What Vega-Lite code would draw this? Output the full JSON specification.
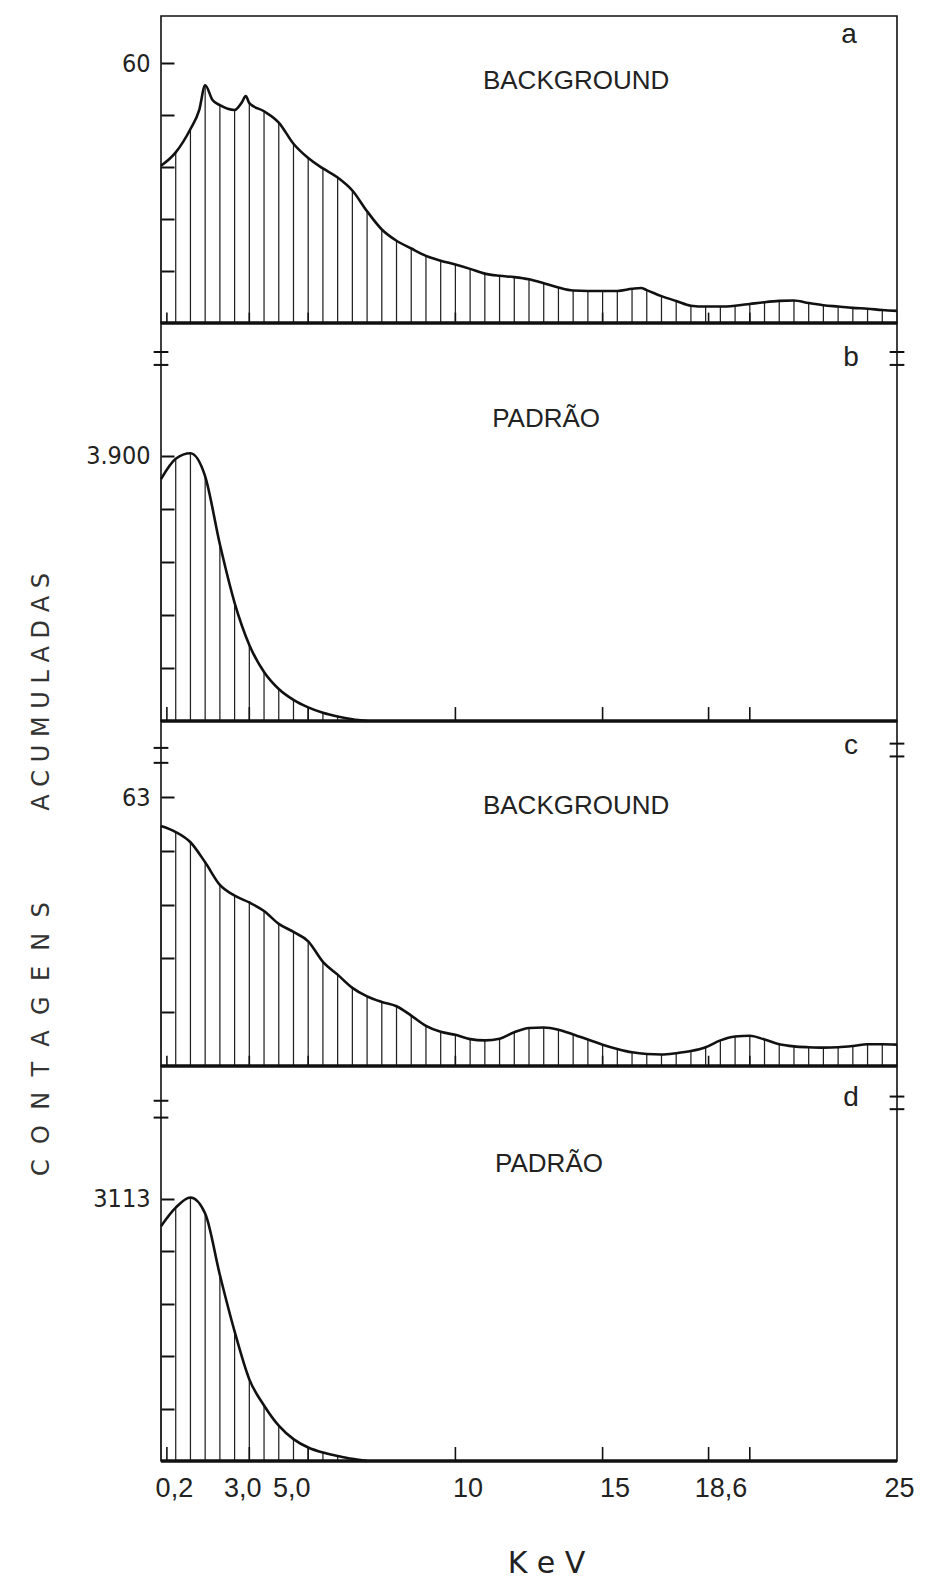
{
  "$schema": "https://vega.github.io/schema/vega-lite/v6.json",
  "background": "white",
  "padding": {"left": 28, "top": 15, "right": 5, "bottom": 0},
  "autosize": {"type": "pad"},
  "spacing": 0,
  "bounds": "flush",
  "config": {
    "view": {"stroke": "#111", "strokeWidth": 1.6},
    "axis": {"grid": false, "domain": false}
  },
  "datasets": {
    "a": [
      {"keV": 0, "n": 36.3}, {"keV": 0.5, "n": 39.4}, {"keV": 1.0, "n": 44.8}, {"keV": 1.3, "n": 49.2},
      {"keV": 1.5, "n": 54.9}, {"keV": 1.75, "n": 51.5}, {"keV": 2.0, "n": 50.3}, {"keV": 2.5, "n": 49.2},
      {"keV": 2.75, "n": 51.0}, {"keV": 2.88, "n": 52.4}, {"keV": 3.0, "n": 50.8}, {"keV": 3.5, "n": 48.9},
      {"keV": 4.0, "n": 46.3}, {"keV": 4.5, "n": 41.4}, {"keV": 5.0, "n": 38.1}, {"keV": 5.5, "n": 35.7},
      {"keV": 6.0, "n": 33.6}, {"keV": 6.5, "n": 30.6}, {"keV": 7.0, "n": 25.8}, {"keV": 7.5, "n": 21.6},
      {"keV": 8.0, "n": 19.0}, {"keV": 8.5, "n": 17.2}, {"keV": 9.0, "n": 15.5}, {"keV": 9.5, "n": 14.4},
      {"keV": 10.0, "n": 13.5}, {"keV": 10.5, "n": 12.5}, {"keV": 11.0, "n": 11.4}, {"keV": 11.5, "n": 10.9},
      {"keV": 12.0, "n": 10.6}, {"keV": 12.5, "n": 10.1}, {"keV": 13.0, "n": 9.2}, {"keV": 13.5, "n": 8.2},
      {"keV": 14.0, "n": 7.5}, {"keV": 14.5, "n": 7.4}, {"keV": 15.0, "n": 7.4}, {"keV": 15.5, "n": 7.4},
      {"keV": 16.0, "n": 7.9}, {"keV": 16.3, "n": 8.1}, {"keV": 16.5, "n": 7.6}, {"keV": 17.0, "n": 6.2},
      {"keV": 17.5, "n": 5.1}, {"keV": 18.0, "n": 4.0}, {"keV": 18.5, "n": 3.8}, {"keV": 19.0, "n": 3.8},
      {"keV": 19.5, "n": 4.0}, {"keV": 20.0, "n": 4.4}, {"keV": 20.5, "n": 4.8}, {"keV": 21.0, "n": 5.1},
      {"keV": 21.5, "n": 5.2}, {"keV": 22.0, "n": 4.6}, {"keV": 22.5, "n": 4.1}, {"keV": 23.0, "n": 3.8},
      {"keV": 23.5, "n": 3.5}, {"keV": 24.0, "n": 3.3}, {"keV": 24.5, "n": 3.0}, {"keV": 25.0, "n": 2.8}
    ],
    "b": [
      {"keV": 0, "n": 3560}, {"keV": 0.5, "n": 3860}, {"keV": 1.0, "n": 3940}, {"keV": 1.5, "n": 3600},
      {"keV": 2.0, "n": 2600}, {"keV": 2.5, "n": 1740}, {"keV": 3.0, "n": 1120}, {"keV": 3.5, "n": 720},
      {"keV": 4.0, "n": 470}, {"keV": 4.5, "n": 310}, {"keV": 5.0, "n": 200}, {"keV": 5.5, "n": 120},
      {"keV": 6.0, "n": 65}, {"keV": 6.5, "n": 25}, {"keV": 7.0, "n": 0}
    ],
    "c": [
      {"keV": 0, "n": 56.2}, {"keV": 0.5, "n": 54.8}, {"keV": 1.0, "n": 52.4}, {"keV": 1.5, "n": 47.7},
      {"keV": 2.0, "n": 42.4}, {"keV": 2.5, "n": 39.9}, {"keV": 3.0, "n": 38.3}, {"keV": 3.5, "n": 36.3},
      {"keV": 4.0, "n": 33.3}, {"keV": 4.5, "n": 31.4}, {"keV": 5.0, "n": 29.2}, {"keV": 5.5, "n": 24.4},
      {"keV": 6.0, "n": 21.4}, {"keV": 6.5, "n": 18.3}, {"keV": 7.0, "n": 16.3}, {"keV": 7.5, "n": 15.0},
      {"keV": 8.0, "n": 14.0}, {"keV": 8.5, "n": 11.8}, {"keV": 9.0, "n": 9.4}, {"keV": 9.5, "n": 8.0},
      {"keV": 10.0, "n": 7.3}, {"keV": 10.5, "n": 6.3}, {"keV": 11.0, "n": 6.0}, {"keV": 11.5, "n": 6.4},
      {"keV": 12.0, "n": 7.9}, {"keV": 12.5, "n": 8.9}, {"keV": 13.0, "n": 9.0}, {"keV": 13.5, "n": 8.5},
      {"keV": 14.0, "n": 7.4}, {"keV": 14.5, "n": 6.2}, {"keV": 15.0, "n": 5.0}, {"keV": 15.5, "n": 4.0},
      {"keV": 16.0, "n": 3.2}, {"keV": 16.5, "n": 2.8}, {"keV": 17.0, "n": 2.7}, {"keV": 17.5, "n": 3.0},
      {"keV": 18.0, "n": 3.5}, {"keV": 18.5, "n": 4.4}, {"keV": 19.0, "n": 6.0}, {"keV": 19.5, "n": 6.9},
      {"keV": 20.0, "n": 7.1}, {"keV": 20.5, "n": 6.2}, {"keV": 21.0, "n": 5.1}, {"keV": 21.5, "n": 4.6},
      {"keV": 22.0, "n": 4.4}, {"keV": 22.5, "n": 4.3}, {"keV": 23.0, "n": 4.4}, {"keV": 23.5, "n": 4.7},
      {"keV": 24.0, "n": 5.1}, {"keV": 24.5, "n": 5.1}, {"keV": 25.0, "n": 5.0}
    ],
    "d": [
      {"keV": 0, "n": 2790}, {"keV": 0.5, "n": 3010}, {"keV": 1.0, "n": 3130}, {"keV": 1.5, "n": 2940},
      {"keV": 2.0, "n": 2210}, {"keV": 2.5, "n": 1540}, {"keV": 3.0, "n": 970}, {"keV": 3.5, "n": 660},
      {"keV": 4.0, "n": 420}, {"keV": 4.5, "n": 260}, {"keV": 5.0, "n": 160}, {"keV": 5.5, "n": 100},
      {"keV": 6.0, "n": 60}, {"keV": 6.5, "n": 25}, {"keV": 7.0, "n": 0}
    ],
    "ticks": [{"k": 0.2}, {"k": 3}, {"k": 5}, {"k": 10}, {"k": 15}, {"k": 18.6}, {"k": 20}],
    "one": [{"mark": "break"}]
  },
  "vconcat": [
    {
      "width": 736, "height": 307,
      "layer": [
        {"data": {"name": "a"}, "transform": [{"filter": "datum.keV*2 == round(datum.keV*2) && datum.n > 0"}],
         "mark": {"type": "rule", "stroke": "#222", "strokeWidth": 1.25},
         "encoding": {"x": {"field": "keV", "type": "quantitative", "scale": {"domain": [0, 25], "nice": false}, "axis": null},
                      "y": {"field": "n", "type": "quantitative", "scale": {"domain": [0, 70.9], "nice": false},
                            "axis": {"values": [12, 24, 36, 48, 60], "labelExpr": "datum.value == 60 ? '60' : ''", "title": null,
                                     "tickSize": -13, "tickWidth": 2, "tickColor": "#111", "labelPadding": 24,
                                     "labelFont": "Liberation Sans Narrow, DejaVu Sans Condensed, sans-serif", "labelFontSize": 25, "labelColor": "#222"}},
                      "y2": {"datum": 0}}},
        {"data": {"name": "ticks"}, "mark": {"type": "rule", "stroke": "#111", "strokeWidth": 1.6},
         "encoding": {"x": {"field": "k", "type": "quantitative"}, "y": {"datum": 0, "type": "quantitative"}, "y2": {"datum": 2.4}}},
        {"data": {"name": "a"}, "mark": {"type": "line", "interpolate": "monotone", "stroke": "#111", "strokeWidth": 2.6},
         "encoding": {"x": {"field": "keV", "type": "quantitative"}, "y": {"field": "n", "type": "quantitative"}}},
        {"data": {"values": [{"z": 0}]}, "mark": {"type": "rule", "stroke": "#111", "strokeWidth": 3.5},
         "encoding": {"y": {"field": "z", "type": "quantitative"}}},
        {"data": {"values": [{"t": "BACKGROUND"}]}, "mark": {"type": "text", "font": "Liberation Sans, sans-serif", "fontSize": 26, "color": "#222", "align": "center", "baseline": "middle"},
         "encoding": {"x": {"datum": 14.1, "type": "quantitative"}, "y": {"datum": 55.9, "type": "quantitative"}, "text": {"field": "t", "type": "nominal"}}},
        {"data": {"values": [{"t": "a"}]}, "mark": {"type": "text", "font": "Liberation Sans, sans-serif", "fontSize": 28, "color": "#222", "align": "center", "baseline": "middle"},
         "encoding": {"x": {"datum": 23.37, "type": "quantitative"}, "y": {"datum": 66.5, "type": "quantitative"}, "text": {"field": "t", "type": "nominal"}}}
      ]
    },
    {
      "width": 736, "height": 398,
      "layer": [
        {"data": {"name": "b"}, "transform": [{"filter": "datum.n > 0"}],
         "mark": {"type": "rule", "stroke": "#222", "strokeWidth": 1.25},
         "encoding": {"x": {"field": "keV", "type": "quantitative", "scale": {"domain": [0, 25], "nice": false}, "axis": null},
                      "y": {"field": "n", "type": "quantitative", "scale": {"domain": [0, 5857], "nice": false},
                            "axis": {"values": [780, 1560, 2340, 3120, 3900], "labelExpr": "datum.value == 3900 ? '3.900' : ''", "title": null,
                                     "tickSize": -13, "tickWidth": 2, "tickColor": "#111", "labelPadding": 24,
                                     "labelFont": "Liberation Sans Narrow, DejaVu Sans Condensed, sans-serif", "labelFontSize": 25, "labelColor": "#222"}},
                      "y2": {"datum": 0}}},
        {"data": {"name": "ticks"}, "mark": {"type": "rule", "stroke": "#111", "strokeWidth": 1.6},
         "encoding": {"x": {"field": "k", "type": "quantitative"}, "y": {"datum": 0, "type": "quantitative"}, "y2": {"datum": 205}}},
        {"data": {"name": "b"}, "mark": {"type": "line", "interpolate": "monotone", "stroke": "#111", "strokeWidth": 2.6},
         "encoding": {"x": {"field": "keV", "type": "quantitative"}, "y": {"field": "n", "type": "quantitative"}}},
        {"data": {"values": [{"z": 0}]}, "mark": {"type": "rule", "stroke": "#111", "strokeWidth": 3.5},
         "encoding": {"y": {"field": "z", "type": "quantitative"}}},
        {"data": {"name": "one"}, "mark": {"type": "rule", "stroke": "#111", "strokeWidth": 2},
         "encoding": {"x": {"datum": -0.25, "type": "quantitative"}, "x2": {"datum": 0.25}, "y": {"datum": 5430, "type": "quantitative"}}},
        {"data": {"name": "one"}, "mark": {"type": "rule", "stroke": "#111", "strokeWidth": 2},
         "encoding": {"x": {"datum": -0.25, "type": "quantitative"}, "x2": {"datum": 0.25}, "y": {"datum": 5240, "type": "quantitative"}}},
        {"data": {"name": "one"}, "mark": {"type": "rule", "stroke": "#111", "strokeWidth": 2},
         "encoding": {"x": {"datum": 24.75, "type": "quantitative"}, "x2": {"datum": 25.25}, "y": {"datum": 5430, "type": "quantitative"}}},
        {"data": {"name": "one"}, "mark": {"type": "rule", "stroke": "#111", "strokeWidth": 2},
         "encoding": {"x": {"datum": 24.75, "type": "quantitative"}, "x2": {"datum": 25.25}, "y": {"datum": 5240, "type": "quantitative"}}},
        {"data": {"values": [{"t": "PADRÃO"}]}, "mark": {"type": "text", "font": "Liberation Sans, sans-serif", "fontSize": 26, "color": "#222", "align": "center", "baseline": "middle"},
         "encoding": {"x": {"datum": 13.08, "type": "quantitative"}, "y": {"datum": 4444, "type": "quantitative"}, "text": {"field": "t", "type": "nominal"}}},
        {"data": {"values": [{"t": "b"}]}, "mark": {"type": "text", "font": "Liberation Sans, sans-serif", "fontSize": 28, "color": "#222", "align": "center", "baseline": "middle"},
         "encoding": {"x": {"datum": 23.44, "type": "quantitative"}, "y": {"datum": 5342, "type": "quantitative"}, "text": {"field": "t", "type": "nominal"}}}
      ]
    },
    {
      "width": 736, "height": 345,
      "layer": [
        {"data": {"name": "c"}, "transform": [{"filter": "datum.n > 0"}],
         "mark": {"type": "rule", "stroke": "#222", "strokeWidth": 1.25},
         "encoding": {"x": {"field": "keV", "type": "quantitative", "scale": {"domain": [0, 25], "nice": false}, "axis": null},
                      "y": {"field": "n", "type": "quantitative", "scale": {"domain": [0, 80.8], "nice": false},
                            "axis": {"values": [12.6, 25.2, 37.8, 50.4, 63], "labelExpr": "datum.value == 63 ? '63' : ''",
                                     "tickSize": -13, "tickWidth": 2, "tickColor": "#111", "labelPadding": 24,
                                     "labelFont": "Liberation Sans Narrow, DejaVu Sans Condensed, sans-serif", "labelFontSize": 25, "labelColor": "#222",
                                     "title": "C\u00a0\u00a0O\u00a0\u00a0N\u00a0\u00a0T\u00a0\u00a0A\u00a0\u00a0G\u00a0\u00a0E\u00a0\u00a0N\u00a0\u00a0S\u00a0\u00a0\u00a0\u00a0\u00a0\u00a0\u00a0\u00a0\u00a0\u00a0\u00a0\u00a0A\u00a0C\u00a0U\u00a0M\u00a0U\u00a0L\u00a0A\u00a0D\u00a0A\u00a0S",
                                     "titleFont": "DejaVu Sans, sans-serif", "titleFontSize": 24, "titleFontWeight": "normal", "titleColor": "#333",
                                     "titleX": -120, "titleY": 153, "titleAngle": -90, "titleAlign": "center", "titleBaseline": "middle", "titleLimit": 1000}},
                      "y2": {"datum": 0}}},
        {"data": {"name": "ticks"}, "mark": {"type": "rule", "stroke": "#111", "strokeWidth": 1.6},
         "encoding": {"x": {"field": "k", "type": "quantitative"}, "y": {"datum": 0, "type": "quantitative"}, "y2": {"datum": 2.4}}},
        {"data": {"name": "c"}, "mark": {"type": "line", "interpolate": "monotone", "stroke": "#111", "strokeWidth": 2.6},
         "encoding": {"x": {"field": "keV", "type": "quantitative"}, "y": {"field": "n", "type": "quantitative"}}},
        {"data": {"values": [{"z": 0}]}, "mark": {"type": "rule", "stroke": "#111", "strokeWidth": 3.5},
         "encoding": {"y": {"field": "z", "type": "quantitative"}}},
        {"data": {"name": "one"}, "mark": {"type": "rule", "stroke": "#111", "strokeWidth": 2},
         "encoding": {"x": {"datum": -0.25, "type": "quantitative"}, "x2": {"datum": 0.25}, "y": {"datum": 74.5, "type": "quantitative"}}},
        {"data": {"name": "one"}, "mark": {"type": "rule", "stroke": "#111", "strokeWidth": 2},
         "encoding": {"x": {"datum": -0.25, "type": "quantitative"}, "x2": {"datum": 0.25}, "y": {"datum": 71, "type": "quantitative"}}},
        {"data": {"name": "one"}, "mark": {"type": "rule", "stroke": "#111", "strokeWidth": 2},
         "encoding": {"x": {"datum": 24.75, "type": "quantitative"}, "x2": {"datum": 25.25}, "y": {"datum": 75.5, "type": "quantitative"}}},
        {"data": {"name": "one"}, "mark": {"type": "rule", "stroke": "#111", "strokeWidth": 2},
         "encoding": {"x": {"datum": 24.75, "type": "quantitative"}, "x2": {"datum": 25.25}, "y": {"datum": 72.5, "type": "quantitative"}}},
        {"data": {"values": [{"t": "BACKGROUND"}]}, "mark": {"type": "text", "font": "Liberation Sans, sans-serif", "fontSize": 26, "color": "#222", "align": "center", "baseline": "middle"},
         "encoding": {"x": {"datum": 14.1, "type": "quantitative"}, "y": {"datum": 60.9, "type": "quantitative"}, "text": {"field": "t", "type": "nominal"}}},
        {"data": {"values": [{"t": "c"}]}, "mark": {"type": "text", "font": "Liberation Sans, sans-serif", "fontSize": 28, "color": "#222", "align": "center", "baseline": "middle"},
         "encoding": {"x": {"datum": 23.44, "type": "quantitative"}, "y": {"datum": 74.9, "type": "quantitative"}, "text": {"field": "t", "type": "nominal"}}}
      ]
    },
    {
      "width": 736, "height": 395,
      "layer": [
        {"data": {"name": "d"}, "transform": [{"filter": "datum.n > 0"}],
         "mark": {"type": "rule", "stroke": "#222", "strokeWidth": 1.25},
         "encoding": {"x": {"field": "keV", "type": "quantitative", "scale": {"domain": [0, 25], "nice": false},
                            "axis": {"values": [0.2, 3, 5, 10, 15, 18.6, 25],
                                     "labelExpr": "datum.value == 0.2 ? '0,2' : datum.value == 3 ? '3,0' : datum.value == 5 ? '5,0' : datum.value == 18.6 ? '18,6' : format(datum.value, 'd')",
                                     "ticks": false, "domain": false, "labelOverlap": false, "labelFlush": false, "labelBound": false,
                                     "labelFont": "Liberation Sans, sans-serif", "labelFontSize": 27, "labelColor": "#222", "labelPadding": 14,
                                     "labelOffset": {"condition": [{"test": "datum.value < 1", "value": 7}, {"test": "datum.value == 3", "value": -7}, {"test": "datum.value == 5", "value": -17}, {"test": "datum.value == 25", "value": 2}], "value": 12},
                                     "title": "K e V", "titleFont": "DejaVu Sans, sans-serif", "titleFontSize": 30, "titleFontWeight": "normal", "titleColor": "#222",
                                     "titleX": 385, "titleY": 102, "titleBaseline": "middle", "titleAlign": "center"}},
                      "y": {"field": "n", "type": "quantitative", "scale": {"domain": [0, 4693], "nice": false},
                            "axis": {"values": [622.6, 1245.2, 1867.8, 2490.4, 3113], "labelExpr": "datum.value == 3113 ? '3113' : ''", "title": null,
                                     "tickSize": -13, "tickWidth": 2, "tickColor": "#111", "labelPadding": 24,
                                     "labelFont": "Liberation Sans Narrow, DejaVu Sans Condensed, sans-serif", "labelFontSize": 25, "labelColor": "#222"}},
                      "y2": {"datum": 0}}},
        {"data": {"name": "ticks"}, "mark": {"type": "rule", "stroke": "#111", "strokeWidth": 1.6},
         "encoding": {"x": {"field": "k", "type": "quantitative"}, "y": {"datum": 0, "type": "quantitative"}, "y2": {"datum": 166}}},
        {"data": {"name": "d"}, "mark": {"type": "line", "interpolate": "monotone", "stroke": "#111", "strokeWidth": 2.6},
         "encoding": {"x": {"field": "keV", "type": "quantitative"}, "y": {"field": "n", "type": "quantitative"}}},
        {"data": {"values": [{"z": 0}]}, "mark": {"type": "rule", "stroke": "#111", "strokeWidth": 3.5},
         "encoding": {"y": {"field": "z", "type": "quantitative"}}},
        {"data": {"name": "one"}, "mark": {"type": "rule", "stroke": "#111", "strokeWidth": 2},
         "encoding": {"x": {"datum": -0.25, "type": "quantitative"}, "x2": {"datum": 0.25}, "y": {"datum": 4280, "type": "quantitative"}}},
        {"data": {"name": "one"}, "mark": {"type": "rule", "stroke": "#111", "strokeWidth": 2},
         "encoding": {"x": {"datum": -0.25, "type": "quantitative"}, "x2": {"datum": 0.25}, "y": {"datum": 4080, "type": "quantitative"}}},
        {"data": {"name": "one"}, "mark": {"type": "rule", "stroke": "#111", "strokeWidth": 2},
         "encoding": {"x": {"datum": 24.75, "type": "quantitative"}, "x2": {"datum": 25.25}, "y": {"datum": 4330, "type": "quantitative"}}},
        {"data": {"name": "one"}, "mark": {"type": "rule", "stroke": "#111", "strokeWidth": 2},
         "encoding": {"x": {"datum": 24.75, "type": "quantitative"}, "x2": {"datum": 25.25}, "y": {"datum": 4180, "type": "quantitative"}}},
        {"data": {"values": [{"t": "PADRÃO"}]}, "mark": {"type": "text", "font": "Liberation Sans, sans-serif", "fontSize": 26, "color": "#222", "align": "center", "baseline": "middle"},
         "encoding": {"x": {"datum": 13.18, "type": "quantitative"}, "y": {"datum": 3529, "type": "quantitative"}, "text": {"field": "t", "type": "nominal"}}},
        {"data": {"values": [{"t": "d"}]}, "mark": {"type": "text", "font": "Liberation Sans, sans-serif", "fontSize": 28, "color": "#222", "align": "center", "baseline": "middle"},
         "encoding": {"x": {"datum": 23.44, "type": "quantitative"}, "y": {"datum": 4313, "type": "quantitative"}, "text": {"field": "t", "type": "nominal"}}}
      ]
    }
  ]
}
